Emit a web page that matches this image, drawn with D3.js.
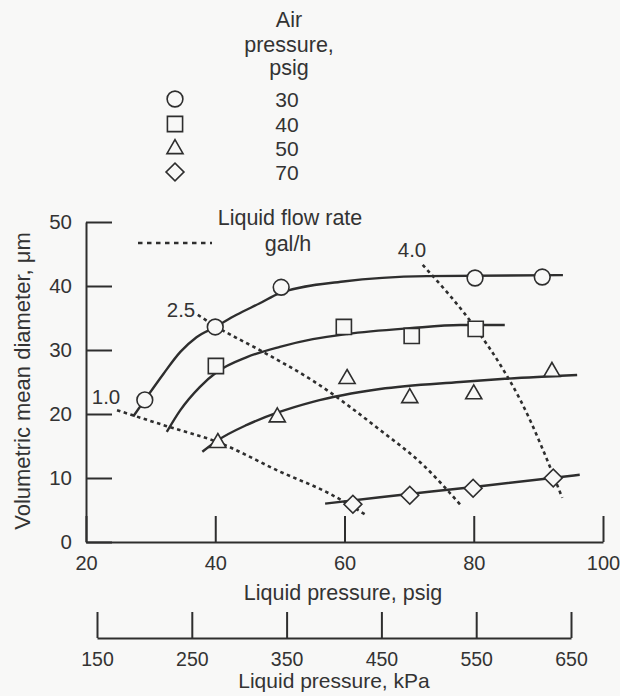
<!DOCTYPE html>
<html>
<head>
<meta charset="utf-8">
<script src="https://cdn.jsdelivr.net/npm/d3@7"></script>
<style>
  html, body { margin: 0; padding: 0; background: #f8f8f7; }
  svg { display: block; }
  text { font-family: "Liberation Sans", Arial, Helvetica, sans-serif; fill: #333; }
</style>
</head>
<body>
<svg id="chart" width="620" height="696"></svg>
<script>
// ---------------- data ----------------
const airPressures = ["30", "40", "50", "70"];
const airSymbols = ["circle", "square", "triangle", "diamond"];

// measured points (liquid pressure psig, VMD um)
const x30 = [29.1, 40.0, 50.2, 80.2, 90.6];
const y30 = [22.2, 33.6, 39.8, 41.25, 41.4];
const x40 = [40.1, 59.9, 70.4, 80.3];
const y40 = [27.5, 33.6, 32.2, 33.3];
const x50 = [40.4, 49.6, 60.4, 70.1, 80.0, 92.1];
const y50 = [15.5, 19.5, 25.5, 22.5, 23.1, 26.6];
const x70 = [61.3, 70.1, 79.9, 92.3];
const y70 = [5.9, 7.3, 8.4, 10.0];

// fitted solid curves
const fit30X = [27.3, 29.1, 32.0, 34.6, 37.1, 40.0, 43.3, 46.9, 50.0, 59.8, 72.7, 93.8];
const fit30Y = [19.6, 22.2, 26.3, 29.7, 32.0, 33.6, 35.5, 37.3, 38.9, 40.7, 41.55, 41.7];
const fit40X = [32.5, 34.6, 37.6, 40.3, 44.9, 50.0, 55.1, 60.4, 70.1, 77.9, 84.8];
const fit40Y = [17.2, 20.6, 24.2, 26.6, 28.9, 30.5, 31.7, 32.5, 33.4, 33.9, 33.9];
const fit50X = [38.0, 40.4, 44.9, 49.6, 55.1, 65.5, 77.9, 84.8, 96.0];
const fit50Y = [14.1, 15.9, 18.3, 20.2, 21.9, 23.9, 25.0, 25.5, 26.1];
const fit70X = [57.0, 65.5, 80.0, 96.4];
const fit70Y = [6.0, 7.0, 8.6, 10.5];

// liquid flow rate (gal/h) dotted lines
const flowRates = ["1.0", "2.5", "4.0"];
const flow10X = [24.8, 32.5, 40.4, 50.0, 57.8, 63.5];
const flow10Y = [20.6, 18.1, 15.6, 11.0, 7.5, 4.1];
const flow25X = [37.3, 40.0, 47.4, 55.1, 65.5, 72.2, 78.2];
const flow25Y = [35.5, 33.75, 29.7, 25.2, 17.5, 12.0, 5.5];
const flow40X = [72.1, 80.5, 84.1, 87.2, 93.7];
const flow40Y = [43.3, 33.1, 27.7, 22.2, 6.9];

// axes
const psigTicks = [20, 40, 60, 80, 100];
const umTicks = [0, 10, 20, 30, 40, 50];
const kpaTicks = [150, 250, 350, 450, 550, 650];

// ---------------- drawing ----------------
const ink = "#2e2e2e";
const bg = "#f8f8f7";
const svg = d3.select("#chart");

const x = d3.scaleLinear().domain([20, 100]).range([86, 603]);
const y = d3.scaleLinear().domain([0, 50]).range([542, 222]);
const k = d3.scaleLinear().domain([150, 650]).range([97, 571]);

function styleAxis(g, fs) {
  g.select(".domain").attr("stroke", ink).attr("stroke-width", 2);
  g.selectAll(".tick line").attr("stroke", ink).attr("stroke-width", 2);
  g.selectAll(".tick text").attr("fill", "#333").attr("font-size", fs)
    .attr("font-family", "'Liberation Sans', Arial, sans-serif");
}

// y axis
svg.append("g").attr("transform", "translate(86,0)")
  .call(d3.axisLeft(y).tickValues(umTicks).tickSizeInner(-26).tickSizeOuter(0).tickPadding(14))
  .call(g => styleAxis(g, 20.5));

// x axis (psig)
svg.append("g").attr("transform", "translate(0,542)")
  .call(d3.axisBottom(x).tickValues(psigTicks).tickSizeInner(-26).tickSizeOuter(0).tickPadding(14))
  .call(g => styleAxis(g, 20));

// kPa axis
svg.append("g").attr("transform", "translate(0,638)")
  .call(d3.axisBottom(k).tickValues(kpaTicks).tickSizeInner(-26).tickSizeOuter(0).tickPadding(14))
  .call(g => styleAxis(g, 19.5));

// axis titles
svg.append("text").attr("x", 343).attr("y", 600).attr("text-anchor", "middle")
  .attr("font-size", 21.5).text("Liquid pressure, psig");
svg.append("text").attr("x", 334).attr("y", 688).attr("text-anchor", "middle")
  .attr("font-size", 21).text("Liquid pressure, kPa");
svg.append("text").attr("transform", "translate(30,381) rotate(-90)").attr("text-anchor", "middle")
  .attr("font-size", 22).text("Volumetric mean diameter, \u03bcm");

const line = d3.line().x(d => x(d[0])).y(d => y(d[1])).curve(d3.curveMonotoneX);
const zip = (a, b) => a.map((v, i) => [v, b[i]]);

// dotted flow-rate lines
const flows = [[flow10X, flow10Y], [flow25X, flow25Y], [flow40X, flow40Y]];
flows.forEach(([fx, fy]) => {
  svg.append("path").attr("d", line(zip(fx, fy)))
    .attr("fill", "none").attr("stroke", ink).attr("stroke-width", 2.6)
    .attr("stroke-dasharray", "3.5,3.5");
});

// solid fitted curves
const fits = [[fit30X, fit30Y], [fit40X, fit40Y], [fit50X, fit50Y], [fit70X, fit70Y]];
fits.forEach(([fx, fy]) => {
  svg.append("path").attr("d", line(zip(fx, fy)))
    .attr("fill", "none").attr("stroke", ink).attr("stroke-width", 2.4);
});

// markers
const symGen = {
  circle: d3.symbol().type(d3.symbolCircle).size(195),
  square: d3.symbol().type(d3.symbolSquare).size(230),
  triangle: d3.symbol().type(d3.symbolTriangle).size(112),
  diamond: d3.symbol().type(d3.symbolSquare).size(160)
};
function marker(g, type, px, py) {
  g.append("path").attr("d", symGen[type]())
    .attr("transform", `translate(${px},${py})` + (type === "diamond" ? " rotate(45)" : ""))
    .attr("fill", bg).attr("stroke", ink).attr("stroke-width", 1.6);
}
const series = [[x30, y30], [x40, y40], [x50, y50], [x70, y70]];
series.forEach(([sx, sy], i) => {
  sx.forEach((v, j) => marker(svg, airSymbols[i], x(v), y(sy[j])));
});

// flow-rate labels
const flowLabelPos = [[106, 397], [181, 310], [412, 250]];
flowRates.forEach((t, i) => {
  svg.append("text").attr("x", flowLabelPos[i][0]).attr("y", flowLabelPos[i][1])
    .attr("dy", "0.36em").attr("text-anchor", "middle").attr("font-size", 20.5).text(t);
});

// flow legend
svg.append("line").attr("x1", 138).attr("x2", 212).attr("y1", 243).attr("y2", 243)
  .attr("stroke", ink).attr("stroke-width", 2.6).attr("stroke-dasharray", "4.5,4.5");
svg.append("text").attr("x", 290).attr("y", 217).attr("dy", "0.36em").attr("text-anchor", "middle")
  .attr("font-size", 21.5).text("Liquid flow rate");
svg.append("text").attr("x", 288).attr("y", 243).attr("dy", "0.36em").attr("text-anchor", "middle")
  .attr("font-size", 21.5).text("gal/h");

// air pressure legend
["Air", "pressure,", "psig"].forEach((t, i) => {
  svg.append("text").attr("x", 289).attr("y", [19, 44, 67][i]).attr("dy", "0.36em")
    .attr("text-anchor", "middle").attr("font-size", 21.5).text(t);
});
const legY = [99, 124, 148, 172];
airPressures.forEach((t, i) => {
  marker(svg, airSymbols[i], 175, legY[i] + (airSymbols[i] === "triangle" ? 1 : 0));
  svg.append("text").attr("x", 287).attr("y", legY[i]).attr("dy", "0.36em")
    .attr("text-anchor", "middle").attr("font-size", 21).text(t);
});
</script>
</body>
</html>
